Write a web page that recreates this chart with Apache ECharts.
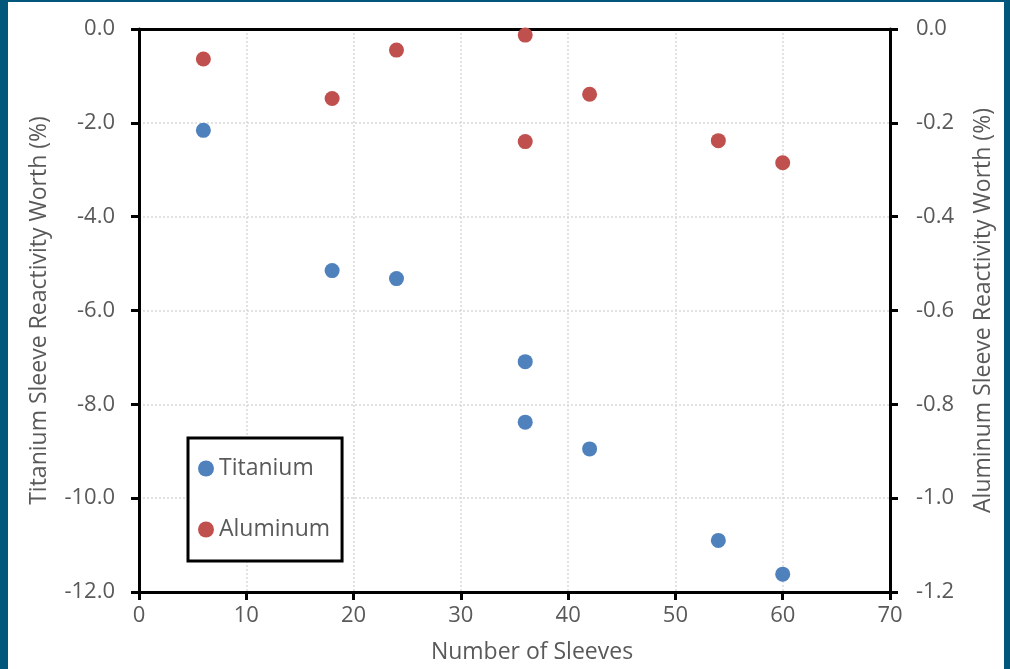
<!DOCTYPE html>
<html>
<head>
<meta charset="utf-8">
<script src="https://cdn.jsdelivr.net/npm/echarts@6/dist/echarts.min.js"></script>
<style>
html,body{margin:0;padding:0;background:#fff;}
#c{width:1010px;height:669px;}
</style>
</head>
<body>
<div id="c"></div>
<script>
const xTicks = [0, 10, 20, 30, 40, 50, 60, 70];
const leftTicks = [-12, -10, -8, -6, -4, -2, 0];
const rightTicks = [-1.2, -1.0, -0.8, -0.6, -0.4, -0.2, 0];
const titaniumSleeves = [6, 18, 24, 36, 36, 42, 54, 60];
const titaniumWorth = [-2.16, -5.15, -5.32, -7.09, -8.38, -8.95, -10.90, -11.62];
const aluminumSleeves = [6, 18, 24, 36, 36, 42, 54, 60];
const aluminumWorth = [-0.064, -0.148, -0.045, -0.013, -0.240, -0.139, -0.238, -0.285];

const FONT = 'Open Sans';
const TXT = '#595959';
const chart = echarts.init(document.getElementById('c'), null, {renderer: 'canvas'});

const tiData = titaniumSleeves.map((x, i) => [x, titaniumWorth[i]]);
const alData = aluminumSleeves.map((x, i) => [x, aluminumWorth[i]]);

chart.setOption({
  backgroundColor: '#fff',
  animation: false,
  textStyle: {fontFamily: FONT},
  graphic: [
    {type: 'rect', left: 0, top: 0, shape: {width: 8, height: 669}, style: {fill: '#00577B'}, z: 100},
    {type: 'rect', left: 0, top: 0, shape: {width: 1010, height: 2}, style: {fill: '#00577B'}, z: 100},
    {type: 'rect', left: 1004, top: 0, shape: {width: 6, height: 669}, style: {fill: '#00577B'}, z: 100}
  ],
  grid: {left: 139, right: 120, top: 29, bottom: 75, containLabel: false},
  legend: {
    orient: 'vertical',
    left: 188, top: 438,
    padding: [19, 12, 20, 10],
    itemGap: 38,
    itemWidth: 16, itemHeight: 16,
    icon: 'circle',
    borderColor: '#000', borderWidth: 3,
    backgroundColor: '#fff',
    textStyle: {fontFamily: FONT, fontSize: 23, color: TXT, padding: [0, 0, 0, 0]},
    data: ['Titanium', 'Aluminum']
  },
  xAxis: [{
    type: 'value', min: 0, max: 70, interval: 10, position: 'bottom',
    name: 'Number of Sleeves', nameLocation: 'middle', nameGap: 49,
    nameTextStyle: {fontFamily: FONT, fontSize: 23, color: TXT, padding: [0, 0, 0, 35]},
    axisLine: {show: true, onZero: false, lineStyle: {color: '#000', width: 3}},
    axisTick: {show: true, inside: false, length: 8, lineStyle: {color: '#000', width: 3}},
    axisLabel: {fontFamily: FONT, fontSize: 22, color: TXT, margin: 13},
    splitLine: {show: true, lineStyle: {color: '#d9d9d9', type: [2, 2], width: 1.5}}
  }, {
    type: 'value', min: 0, max: 70, interval: 10, position: 'top',
    axisLine: {show: true, onZero: false, lineStyle: {color: '#000', width: 3}},
    axisTick: {show: false}, axisLabel: {show: false}, splitLine: {show: false}
  }],
  yAxis: [{
    type: 'value', min: -12, max: 0, interval: 2, position: 'left',
    name: 'Titanium Sleeve Reactivity Worth (%)', nameLocation: 'middle', nameGap: 88,
    nameTextStyle: {fontFamily: FONT, fontSize: 23, color: TXT},
    axisLine: {show: true, onZero: false, lineStyle: {color: '#000', width: 3}},
    axisTick: {show: true, inside: false, length: 8, lineStyle: {color: '#000', width: 3}},
    axisLabel: {fontFamily: FONT, fontSize: 22, color: TXT, margin: 24, formatter: v => v.toFixed(1)},
    splitLine: {show: true, lineStyle: {color: '#d9d9d9', type: [2, 2], width: 1.5}}
  }, {
    type: 'value', min: -1.2, max: 0, interval: 0.2, position: 'right',
    name: 'Aluminum Sleeve Reactivity Worth (%)', nameLocation: 'middle', nameGap: 82,
    nameTextStyle: {fontFamily: FONT, fontSize: 23, color: TXT},
    axisLine: {show: true, onZero: false, lineStyle: {color: '#000', width: 3}},
    axisTick: {show: true, inside: false, length: 8, lineStyle: {color: '#000', width: 3}},
    axisLabel: {fontFamily: FONT, fontSize: 22, color: TXT, margin: 26, formatter: v => v.toFixed(1)},
    splitLine: {show: false}
  }],
  series: [{
    name: 'Titanium', type: 'scatter', xAxisIndex: 0, yAxisIndex: 0,
    symbol: 'circle', symbolSize: 15,
    itemStyle: {color: '#4F81BD', opacity: 1},
    data: tiData
  }, {
    name: 'Aluminum', type: 'scatter', xAxisIndex: 0, yAxisIndex: 1,
    symbol: 'circle', symbolSize: 15,
    itemStyle: {color: '#C0504D', opacity: 1},
    data: alData
  }]
});
</script>
</body>
</html>
